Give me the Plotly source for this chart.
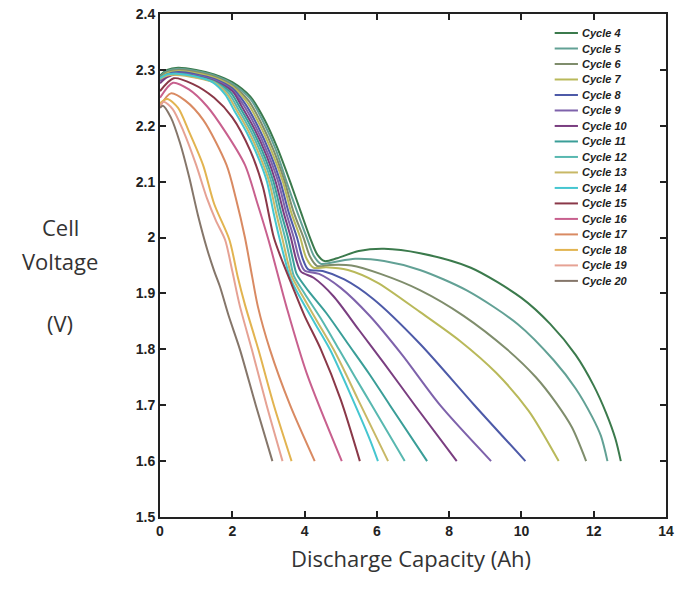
import plotly.graph_objects as go

cycles = ["Cycle 4", "Cycle 5", "Cycle 6", "Cycle 7", "Cycle 8", "Cycle 9", "Cycle 10",
          "Cycle 11", "Cycle 12", "Cycle 13", "Cycle 14", "Cycle 15", "Cycle 16",
          "Cycle 17", "Cycle 18", "Cycle 19", "Cycle 20"]

colors = ["#3b7a4c", "#62a195", "#7f8d6c", "#b9b95a", "#4d5aa8", "#7e62ab", "#7a3e80",
          "#3a9e98", "#58b8b0", "#c8b866", "#45c6d0", "#8a3848", "#c8608e",
          "#d98a62", "#e2b450", "#e6a294", "#85766a"]

cap_c4 = [0, 0.2, 0.5, 1.0, 1.5, 2.0, 2.5, 2.9, 3.25, 3.6, 3.9, 4.15, 4.35, 4.55, 4.9, 5.5, 6.2, 7.2, 8.6, 10.0, 10.8, 11.5, 12.0, 12.35, 12.6, 12.75]
volt_c4 = [2.290, 2.300, 2.304, 2.300, 2.292, 2.278, 2.252, 2.210, 2.160, 2.100, 2.045, 2.000, 1.970, 1.958, 1.963, 1.976, 1.980, 1.972, 1.946, 1.892, 1.845, 1.790, 1.735, 1.685, 1.640, 1.600]

cap_c5 = [0, 0.2, 0.5, 1.0, 1.5, 2.0, 2.5, 2.85, 3.2, 3.5, 3.8, 4.06, 4.25, 4.45, 4.8, 5.4, 6.2, 7.19, 8.5, 9.9, 10.9, 11.5, 11.95, 12.2, 12.38]
volt_c5 = [2.288, 2.298, 2.302, 2.298, 2.290, 2.275, 2.248, 2.208, 2.158, 2.100, 2.045, 2.000, 1.968, 1.953, 1.956, 1.962, 1.958, 1.942, 1.905, 1.845, 1.780, 1.730, 1.680, 1.645, 1.600]

cap_c6 = [0, 0.2, 0.5, 1.0, 1.5, 2.0, 2.45, 2.8, 3.15, 3.45, 3.7, 3.97, 4.15, 4.35, 4.7, 5.3, 6.1, 7.19, 8.4, 9.6, 10.4, 10.95, 11.4, 11.79]
volt_c6 = [2.286, 2.296, 2.300, 2.296, 2.288, 2.272, 2.245, 2.205, 2.155, 2.100, 2.045, 2.000, 1.966, 1.949, 1.951, 1.950, 1.935, 1.906, 1.860, 1.800, 1.750, 1.705, 1.660, 1.600]

cap_c7 = [0, 0.2, 0.5, 1.0, 1.5, 2.0, 2.4, 2.75, 3.1, 3.4, 3.63, 3.88, 4.05, 4.25, 4.6, 5.2, 6.0, 7.19, 8.3, 9.3, 10.2, 11.03]
volt_c7 = [2.284, 2.294, 2.298, 2.294, 2.286, 2.270, 2.243, 2.203, 2.153, 2.100, 2.045, 2.000, 1.963, 1.946, 1.947, 1.942, 1.920, 1.867, 1.815, 1.758, 1.690, 1.600]

cap_c8 = [0, 0.2, 0.5, 1.0, 1.5, 2.0, 2.35, 2.7, 3.05, 3.33, 3.56, 3.79, 3.95, 4.1, 4.5, 5.1, 5.9, 7.19, 8.7, 10.11]
volt_c8 = [2.282, 2.292, 2.296, 2.292, 2.284, 2.267, 2.240, 2.200, 2.150, 2.100, 2.045, 2.000, 1.962, 1.943, 1.940, 1.925, 1.890, 1.810, 1.700, 1.600]

cap_c9 = [0, 0.2, 0.45, 1.0, 1.5, 2.0, 2.3, 2.65, 3.0, 3.27, 3.49, 3.7, 3.85, 4.0, 4.4, 5.0, 5.8, 6.7, 7.75, 9.16]
volt_c9 = [2.280, 2.290, 2.294, 2.290, 2.282, 2.264, 2.238, 2.198, 2.148, 2.100, 2.045, 2.000, 1.962, 1.941, 1.935, 1.910, 1.860, 1.790, 1.700, 1.600]

cap_c10 = [0, 0.2, 0.45, 1.0, 1.5, 2.0, 2.25, 2.6, 2.95, 3.2, 3.42, 3.62, 3.77, 3.9, 4.25, 4.8, 5.5, 6.2, 7.05, 8.21]
volt_c10 = [2.276, 2.287, 2.292, 2.288, 2.280, 2.262, 2.236, 2.196, 2.146, 2.100, 2.045, 2.000, 1.960, 1.939, 1.928, 1.895, 1.835, 1.775, 1.700, 1.600]

cap_c11 = [0, 0.2, 0.45, 1.0, 1.5, 1.95, 2.2, 2.55, 2.9, 3.14, 3.35, 3.54, 3.68, 3.78, 4.1, 4.6, 5.2, 5.8, 6.36, 7.39]
volt_c11 = [2.285, 2.292, 2.293, 2.288, 2.279, 2.260, 2.234, 2.194, 2.144, 2.100, 2.045, 2.000, 1.960, 1.935, 1.905, 1.865, 1.810, 1.755, 1.700, 1.600]

cap_c12 = [0, 0.2, 0.45, 1.0, 1.5, 1.9, 2.15, 2.5, 2.85, 3.08, 3.28, 3.46, 3.6, 3.7, 4.0, 4.45, 4.95, 5.4, 5.86, 6.77]
volt_c12 = [2.284, 2.291, 2.292, 2.287, 2.278, 2.258, 2.232, 2.192, 2.142, 2.100, 2.045, 2.000, 1.960, 1.932, 1.900, 1.855, 1.800, 1.750, 1.700, 1.600]

cap_c13 = [0, 0.2, 0.45, 1.0, 1.5, 1.85, 2.1, 2.45, 2.8, 3.02, 3.21, 3.38, 3.52, 3.65, 3.95, 4.35, 4.8, 5.15, 5.48, 6.31]
volt_c13 = [2.284, 2.290, 2.291, 2.286, 2.277, 2.257, 2.230, 2.190, 2.140, 2.100, 2.045, 2.000, 1.960, 1.930, 1.895, 1.850, 1.800, 1.755, 1.710, 1.600]

cap_c14 = [0, 0.2, 0.45, 1.0, 1.45, 1.8, 2.05, 2.4, 2.75, 2.96, 3.14, 3.3, 3.45, 3.6, 3.9, 4.3, 4.7, 5.3, 5.81, 6.03]
volt_c14 = [2.285, 2.292, 2.293, 2.288, 2.278, 2.256, 2.228, 2.188, 2.138, 2.100, 2.045, 2.000, 1.962, 1.928, 1.890, 1.845, 1.800, 1.715, 1.638, 1.600]

cap_c15 = [0, 0.38, 0.9, 1.5, 2.0, 2.5, 2.85, 3.15, 3.4, 3.65, 4.0, 4.45, 5.0, 5.53]
volt_c15 = [2.262, 2.285, 2.275, 2.250, 2.215, 2.155, 2.090, 2.000, 1.955, 1.915, 1.860, 1.800, 1.710, 1.600]

cap_c16 = [0, 0.36, 0.8, 1.3, 1.8, 2.35, 2.7, 3.0, 3.32, 3.5, 4.06, 5.03]
volt_c16 = [2.250, 2.277, 2.265, 2.235, 2.190, 2.130, 2.060, 1.996, 1.919, 1.876, 1.757, 1.600]

cap_c17 = [0, 0.3, 0.7, 1.2, 1.84, 2.1, 2.35, 2.55, 2.71, 3.04, 3.6, 4.28]
volt_c17 = [2.235, 2.258, 2.245, 2.210, 2.130, 2.070, 2.000, 1.930, 1.876, 1.800, 1.700, 1.600]

cap_c18 = [0, 0.2, 0.5, 0.8, 1.19, 1.5, 1.92, 2.15, 2.35, 2.72, 3.15, 3.64]
volt_c18 = [2.240, 2.248, 2.232, 2.190, 2.130, 2.060, 1.996, 1.930, 1.880, 1.800, 1.700, 1.600]

cap_c19 = [0, 0.1, 0.35, 0.65, 1.0, 1.3, 1.55, 1.8, 2.0, 2.2, 2.54, 2.95, 3.39]
volt_c19 = [2.235, 2.243, 2.230, 2.190, 2.130, 2.070, 2.030, 1.996, 1.940, 1.880, 1.800, 1.700, 1.600]

cap_c20 = [0, 0.08, 0.3, 0.55, 0.8, 1.05, 1.3, 1.5, 1.66, 1.9, 2.21, 2.65, 3.11]
volt_c20 = [2.232, 2.236, 2.215, 2.170, 2.110, 2.040, 1.980, 1.940, 1.912, 1.860, 1.800, 1.700, 1.600]

capacities = [cap_c4, cap_c5, cap_c6, cap_c7, cap_c8, cap_c9, cap_c10, cap_c11, cap_c12,
              cap_c13, cap_c14, cap_c15, cap_c16, cap_c17, cap_c18, cap_c19, cap_c20]
voltages = [volt_c4, volt_c5, volt_c6, volt_c7, volt_c8, volt_c9, volt_c10, volt_c11, volt_c12,
            volt_c13, volt_c14, volt_c15, volt_c16, volt_c17, volt_c18, volt_c19, volt_c20]

x_ticks = [0, 2, 4, 6, 8, 10, 12, 14]
y_ticks = [1.5, 1.6, 1.7, 1.8, 1.9, 2.0, 2.1, 2.2, 2.3, 2.4]
y_tick_labels = ["1.5", "1.6", "1.7", "1.8", "1.9", "2", "2.1", "2.2", "2.3", "2.4"]

fig = go.Figure()
for name, col, xs, ys in zip(cycles, colors, capacities, voltages):
    fig.add_trace(go.Scatter(x=xs, y=ys, mode="lines", name=name, showlegend=False,
                             line=dict(color=col, width=2, shape="spline", smoothing=0.8)))

tickfont = dict(family="Liberation Sans, Arial, sans-serif", size=14, color="#222222", weight=700)
axis_common = dict(showline=True, linecolor="#222222", linewidth=2, mirror="ticks",
                   ticks="inside", ticklen=6, tickwidth=2, tickcolor="#222222",
                   showgrid=False, zeroline=False, tickfont=tickfont)

fig.update_xaxes(range=[0, 14], tickvals=x_ticks, **axis_common)
fig.update_yaxes(range=[1.5, 2.4], tickvals=y_ticks, ticktext=y_tick_labels, **axis_common)

# Manual compact legend (layout decoration in paper coordinates)
legend_font = dict(family="Liberation Sans, Arial, sans-serif", size=11,
                   color="#222222", weight=700, style="italic")
shapes = []
annotations = []
legend_top = 0.9622
legend_step = 0.0308
for i, (name, col) in enumerate(zip(cycles, colors)):
    yy = legend_top - i * legend_step
    shapes.append(dict(type="line", xref="paper", yref="paper", x0=0.780, x1=0.826,
                       y0=yy, y1=yy, line=dict(color=col, width=2)))
    annotations.append(dict(text=name, xref="paper", yref="paper", x=0.830, y=yy,
                            xanchor="left", yanchor="middle", showarrow=False, font=legend_font))

label_font = dict(family="Open Sans, Liberation Sans, sans-serif", size=22, color="#333333")
xlabel_font = dict(family="Open Sans, Liberation Sans, sans-serif", size=22, color="#333333")
annotations += [
    dict(text="Discharge Capacity (Ah)", xref="paper", yref="paper", x=0.497, y=-0.082,
         xanchor="center", yanchor="middle", showarrow=False, font=xlabel_font),
    dict(text="Cell", xref="paper", yref="paper", x=-0.197, y=0.577,
         xanchor="center", yanchor="middle", showarrow=False, font=label_font),
    dict(text="Voltage", xref="paper", yref="paper", x=-0.197, y=0.508,
         xanchor="center", yanchor="middle", showarrow=False, font=label_font),
    dict(text="(V)", xref="paper", yref="paper", x=-0.197, y=0.385,
         xanchor="center", yanchor="middle", showarrow=False, font=label_font),
]

fig.update_layout(
    width=680, height=590,
    margin=dict(l=160, r=6, t=9, b=73),
    paper_bgcolor="white", plot_bgcolor="white",
    showlegend=False,
    shapes=shapes,
    annotations=annotations,
)

fig.write_html("out.html")
